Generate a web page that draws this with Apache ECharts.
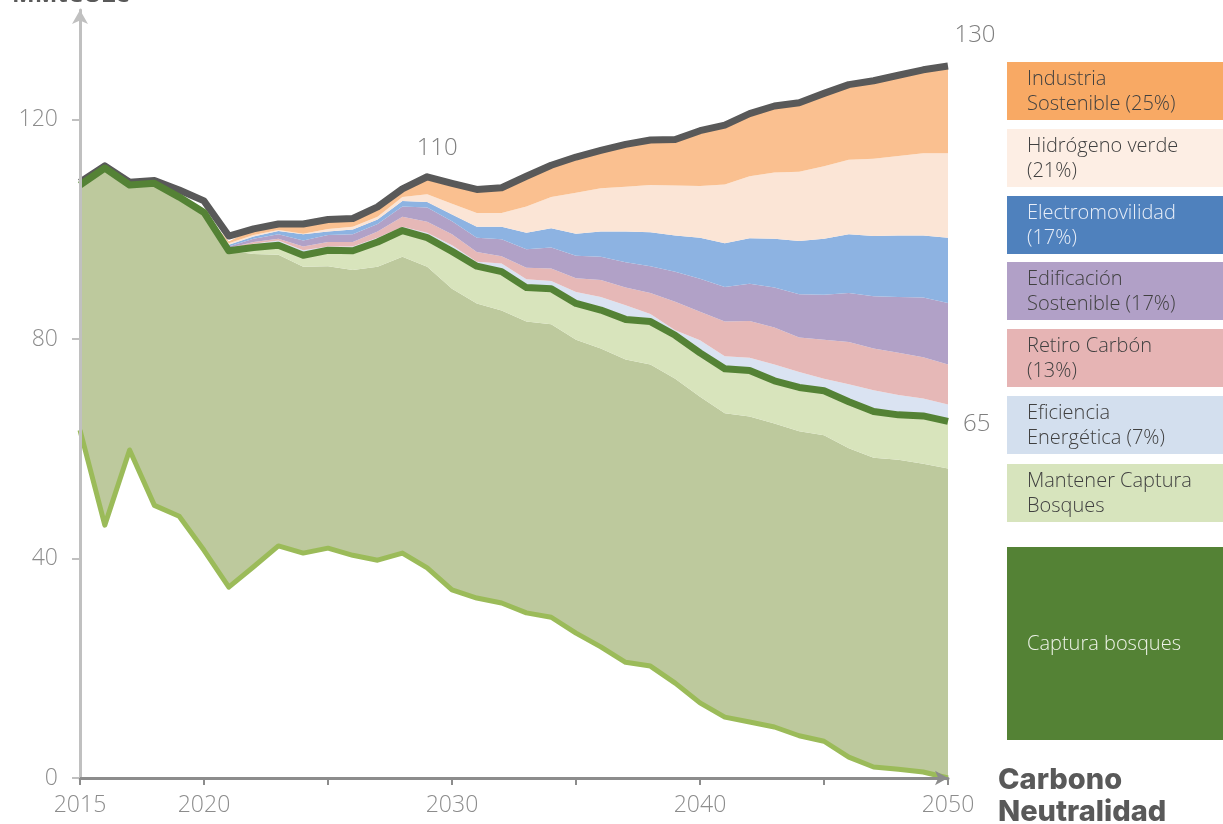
<!DOCTYPE html>
<html>
<head>
<meta charset="utf-8">
<script src="https://cdn.jsdelivr.net/npm/echarts@6/dist/echarts.min.js"></script>
<style>
html, body { margin: 0; padding: 0; background: #fff; }
#chart { width: 1223px; height: 824px; }
</style>
</head>
<body>
<div id="chart"></div>
<script>
var anios = ['2015', '2016', '2017', '2018', '2019', '2020', '2021', '2022', '2023', '2024',
    '2025', '2026', '2027', '2028', '2029', '2030', '2031', '2032', '2033', '2034',
    '2035', '2036', '2037', '2038', '2039', '2040', '2041', '2042', '2043', '2044',
    '2045', '2046', '2047', '2048', '2049', '2050'];
var aniosRotulados = ['2015', '2020', '2030', '2040', '2050'];
var ticksY = [0, 40, 80, 120];

// linea gris: tendencia
var tendencia = [108.6, 111.6, 108.6, 108.9, 107.2, 105.2, 98.8, 100.1, 101.0, 101.0,
    101.8, 102.0, 104.1, 107.4, 109.6, 108.4, 107.3, 107.6, 109.7, 111.7,
    113.2, 114.4, 115.5, 116.3, 116.4, 118.0, 119.0, 121.1, 122.5, 123.1,
    124.8, 126.4, 127.1, 128.1, 129.1, 129.8];
// linea verde oscuro: emisiones con medidas
var conMedidas = [108.1, 111.2, 108.1, 108.4, 105.9, 103.1, 96.1, 96.7, 97.1, 95.3,
    96.2, 96.1, 97.7, 99.8, 98.5, 96.0, 93.3, 92.3, 89.4, 89.2,
    86.5, 85.3, 83.6, 83.2, 80.7, 77.5, 74.6, 74.3, 72.4, 71.2,
    70.6, 68.6, 66.8, 66.2, 66.0, 65.0];
// linea verde claro: emisiones netas
var emisionesNetas = [63.4, 46.1, 59.8, 49.7, 47.7, 41.5, 34.8, 38.5, 42.3, 41.0,
    41.9, 40.6, 39.7, 41.0, 38.3, 34.3, 32.8, 31.9, 30.1, 29.3,
    26.4, 23.9, 21.1, 20.4, 17.3, 13.7, 11.1, 10.2, 9.3, 7.7,
    6.7, 3.8, 2.0, 1.6, 1.1, 0];

// borde superior de cada capa apilada
var nivelCaptura = [108.1, 111.2, 108.1, 108.4, 105.9, 103.1, 96.1, 95.5, 95.4, 93.2,
    93.3, 92.6, 93.2, 95.0, 93.2, 89.2, 86.5, 85.2, 83.2, 82.7,
    79.9, 78.3, 76.3, 75.4, 72.8, 69.5, 66.5, 65.9, 64.6, 63.2,
    62.5, 60.1, 58.4, 58.0, 57.3, 56.4];
var nivelEficiencia = [108.1, 111.2, 108.1, 108.4, 105.9, 103.1, 96.3, 97.4, 98.0, 96.2,
    96.9, 96.9, 98.5, 100.5, 99.4, 97.1, 94.1, 93.8, 90.9, 90.6,
    88.6, 87.7, 86.2, 84.6, 81.6, 79.8, 76.9, 76.6, 75.4, 74.0,
    72.8, 71.8, 70.7, 69.8, 69.2, 68.1];
var nivelRetiro = [108.1, 111.2, 108.1, 108.4, 105.9, 103.1, 96.6, 97.7, 98.3, 96.9,
    97.7, 97.7, 99.6, 102.3, 101.4, 99.1, 95.9, 95.1, 93.0, 92.9,
    91.1, 90.8, 89.4, 88.4, 86.8, 85.0, 83.2, 83.3, 82.1, 80.3,
    79.9, 79.5, 78.3, 77.5, 76.7, 75.4];
var nivelEdificacion = [108.1, 111.2, 108.1, 108.4, 105.9, 103.1, 96.9, 98.3, 99.1, 98.0,
    99.0, 99.1, 101.0, 104.2, 104.0, 101.5, 98.5, 98.2, 96.4, 96.7,
    95.2, 95.0, 94.0, 93.3, 92.3, 91.0, 89.5, 90.1, 89.4, 88.2,
    88.1, 88.4, 87.8, 87.7, 87.6, 86.6];
var nivelElectro = [108.1, 111.2, 108.1, 108.4, 105.9, 103.1, 97.2, 98.7, 99.7, 99.1,
    99.6, 100.0, 101.8, 105.2, 105.0, 102.7, 100.5, 100.5, 99.4, 100.2,
    99.2, 99.6, 99.6, 99.5, 98.9, 98.5, 97.5, 98.4, 98.3, 97.9,
    98.3, 99.1, 98.8, 98.9, 98.9, 98.5];
var nivelHidrogeno = [108.1, 111.2, 108.1, 108.4, 105.9, 103.1, 97.5, 99.0, 99.9, 99.2,
    100.1, 100.5, 102.3, 105.9, 106.4, 104.7, 103.0, 103.0, 104.2, 105.9,
    106.7, 107.5, 107.8, 108.1, 108.0, 107.9, 108.2, 109.7, 110.4, 110.5,
    111.5, 112.7, 112.9, 113.4, 113.9, 113.9];
var nivelIndustria = [108.1, 111.2, 108.1, 108.4, 105.9, 103.1, 97.8, 100.1, 101.0, 101.0,
    101.8, 102.0, 104.1, 107.4, 109.6, 108.4, 107.3, 107.6, 109.7, 111.7,
    113.2, 114.4, 115.5, 116.3, 116.4, 118.0, 119.0, 121.1, 122.5, 123.1,
    124.8, 126.4, 127.1, 128.1, 129.1, 129.8];

var fuente = '"Open Sans", "Noto Sans", sans-serif';
var grisTexto = '#8c8c8c';

function banda(sup, inf) {
    return sup.map(function (v, i) { return +(v - inf[i]).toFixed(1); });
}

var capas = [
    { name: 'Captura bosques', sup: nivelCaptura, inf: emisionesNetas, color: '#bdc99d' },
    { name: 'Mantener Captura Bosques', sup: conMedidas, inf: nivelCaptura, color: '#d8e4bc' },
    { name: 'Eficiencia Energética', sup: nivelEficiencia, inf: conMedidas, color: '#dae3f2' },
    { name: 'Retiro Carbón', sup: nivelRetiro, inf: nivelEficiencia, color: '#e6b8b7' },
    { name: 'Edificación Sostenible', sup: nivelEdificacion, inf: nivelRetiro, color: '#b1a1c7' },
    { name: 'Electromovilidad', sup: nivelElectro, inf: nivelEdificacion, color: '#8db3e2' },
    { name: 'Hidrógeno verde', sup: nivelHidrogeno, inf: nivelElectro, color: '#fbe5d6' },
    { name: 'Industria Sostenible', sup: nivelIndustria, inf: nivelHidrogeno, color: '#fac090' }
];

var leyenda = [
    { texto: 'Industria\nSostenible (25%)', color: '#f8a964', letra: '#404040', y: 62, h: 58 },
    { texto: 'Hidrógeno verde\n(21%)', color: '#fdeee4', letra: '#404040', y: 129, h: 58 },
    { texto: 'Electromovilidad\n(17%)', color: '#4f81bd', letra: '#e8eef8', y: 196, h: 58 },
    { texto: 'Edificación\nSostenible (17%)', color: '#b1a0c7', letra: '#404040', y: 262, h: 58 },
    { texto: 'Retiro Carbón\n(13%)', color: '#e6b4b4', letra: '#404040', y: 329, h: 58 },
    { texto: 'Eficiencia\nEnergética (7%)', color: '#d3dfee', letra: '#404040', y: 396, h: 58 },
    { texto: 'Mantener Captura\nBosques', color: '#d7e4bd', letra: '#404040', y: 464, h: 58 },
    { texto: 'Captura bosques', color: '#548235', letra: '#eef3e8', y: 547, h: 193 }
];

function etiquetar(valores, marcas) {
    return valores.map(function (v, i) {
        return marcas[i] ? { value: v, label: marcas[i] } : v;
    });
}

var estiloEtiqueta = {
    show: false,
    color: '#7f7f7f',
    fontSize: 24,
    fontWeight: 300,
    fontFamily: fuente,
    formatter: function (p) { return Math.round(p.value); }
};

var series = [{
    name: 'base',
    type: 'line',
    stack: 'total',
    data: emisionesNetas,
    symbol: 'none',
    silent: true,
    lineStyle: { opacity: 0 },
    areaStyle: { opacity: 0 }
}];
capas.forEach(function (c) {
    series.push({
        name: c.name,
        type: 'line',
        stack: 'total',
        data: banda(c.sup, c.inf),
        symbol: 'none',
        lineStyle: { width: 0, opacity: 0 },
        areaStyle: { color: c.color, opacity: 1 }
    });
});
series.push({
    name: 'Tendencia',
    type: 'line',
    data: etiquetar(tendencia, {
        14: { show: true, position: 'top', distance: 17, offset: [10, 0] },
        35: { show: true, position: 'top', distance: 19, offset: [27, 0] }
    }),
    symbol: 'circle',
    symbolSize: 0,
    showSymbol: true,
    showAllSymbol: true,
    z: 5,
    label: estiloEtiqueta,
    lineStyle: { color: '#595959', width: 7, join: 'round' }
}, {
    name: 'Con medidas',
    type: 'line',
    data: etiquetar(conMedidas, {
        35: { show: true, position: 'right', distance: 15, offset: [0, 3] }
    }),
    symbol: 'circle',
    symbolSize: 0,
    showSymbol: true,
    showAllSymbol: true,
    z: 6,
    label: estiloEtiqueta,
    lineStyle: { color: '#548235', width: 7, join: 'round' }
}, {
    name: 'Emisiones netas',
    type: 'line',
    data: emisionesNetas,
    symbol: 'none',
    z: 6,
    lineStyle: { color: '#9bbb59', width: 5, join: 'round' }
});

var graficos = [{
    type: 'text',
    style: { text: 'MMtCO2e', x: 12, y: 7, verticalAlign: 'bottom', fill: '#595959',
        font: 'bold 24px ' + fuente }
}, {
    type: 'text',
    style: { text: 'Carbono\nNeutralidad', x: 998, y: 764, fill: '#595959', lineHeight: 32,
        font: '800 29px Inter, ' + fuente }
}];
leyenda.forEach(function (l) {
    graficos.push({
        type: 'rect',
        shape: { x: 1007, y: l.y, width: 220, height: l.h },
        style: { fill: l.color }
    });
    graficos.push({
        type: 'text',
        style: {
            text: l.texto,
            x: 1027,
            y: l.y + l.h / 2 + 1,
            verticalAlign: 'middle',
            lineHeight: 25,
            fill: l.letra,
            font: '300 20px ' + fuente
        }
    });
});

var chart = echarts.init(document.getElementById('chart'), null, { renderer: 'canvas' });
var option = {
    backgroundColor: '#ffffff',
    animation: false,
    grid: { left: 80, right: 275, top: 10, bottom: 46 },
    xAxis: {
        type: 'category',
        data: anios,
        boundaryGap: false,
        z: 10,
        axisLine: {
            lineStyle: { color: '#8c8c8c', width: 3 },
            symbol: ['none', 'arrow'],
            symbolSize: [11, 13]
        },
        axisTick: {
            interval: function (i) { return i % 5 === 0; },
            length: 7,
            lineStyle: { color: '#8c8c8c', width: 2 }
        },
        axisLabel: {
            interval: function (i, v) { return aniosRotulados.indexOf(v) >= 0; },
            color: grisTexto,
            fontSize: 23,
            fontWeight: 300,
            fontFamily: fuente,
            margin: 16
        },
        splitLine: { show: false }
    },
    yAxis: {
        type: 'value',
        min: 0,
        max: 140,
        interval: 40,
        z: 10,
        axisLine: {
            show: true,
            lineStyle: { color: '#c0c0c0', width: 3 },
            symbol: ['none', 'arrow'],
            symbolSize: [12, 14]
        },
        axisTick: {
            show: true,
            length: 8,
            customValues: ticksY,
            lineStyle: { color: '#c0c0c0', width: 2 }
        },
        axisLabel: {
            customValues: ticksY,
            color: grisTexto,
            fontSize: 23,
            fontWeight: 300,
            fontFamily: fuente,
            margin: 22
        },
        splitLine: { show: false }
    },
    graphic: graficos,
    series: series
};
chart.setOption(option);
</script>
</body>
</html>
